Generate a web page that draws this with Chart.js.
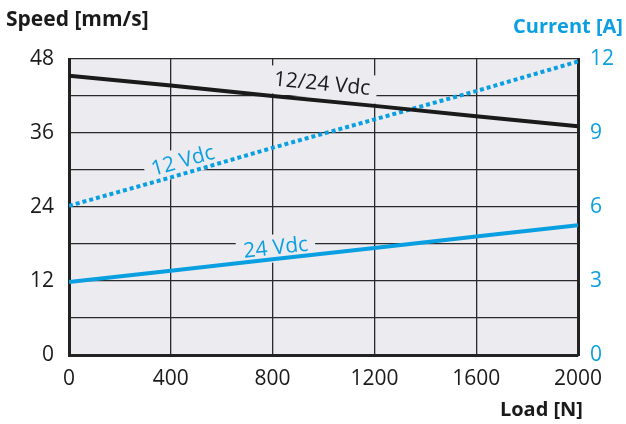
<!DOCTYPE html>
<html>
<head>
<meta charset="utf-8">
<script src="https://cdn.jsdelivr.net/npm/chart.js@4.4.1/dist/chart.umd.min.js"></script>
<style>
  html, body { margin: 0; padding: 0; background: #fff; }
  #wrap { position: relative; width: 626px; height: 424px; font-family: "Open Sans", sans-serif; }
  canvas { position: absolute; left: 0; top: 0; }
  .title { position: absolute; font-weight: bold; font-size: 20px; white-space: nowrap; line-height: 1; }
  #speed-title { left: 6px; top: 8px; color: #1a1a1a; font-size: 21px; }
  #current-title { right: 3px; top: 16px; color: #0a9fe0; }
  #load-title { right: 43px; top: 399px; color: #1a1a1a; }
</style>
</head>
<body>
<div id="wrap">
  <canvas id="chart" width="626" height="424"></canvas>
  <div class="title" id="speed-title">Speed [mm/s]</div>
  <div class="title" id="current-title">Current [A]</div>
  <div class="title" id="load-title">Load [N]</div>
</div>
<script>
const loads = [0, 400, 800, 1200, 1600, 2000];
const speed1224 = [45.3, 43.7, 42.0, 40.4, 38.7, 37.1];
const current12 = [6.05, 7.2, 8.4, 9.55, 10.7, 11.9];
const current24 = [2.96, 3.42, 3.88, 4.34, 4.8, 5.26];
const speedTicks = [0, 12, 24, 36, 48];
const currentTicks = [0, 3, 6, 9, 12];

const BLUE = "#0a9fe0";
const DARK = "#1a1a1a";
const PLOT_BG = "#ebebf0";

const toPoints = (ys) => loads.map((x, i) => ({ x: x, y: ys[i] }));

// text labels sitting on the lines, with a box that hides the grid behind them
const lineLabels = [
  { text: "12/24 Vdc", x: 994, y: 43.9, axis: "y", color: DARK, ds: 0 },
  { text: "12 Vdc", x: 448, y: 7.85, axis: "y2", color: BLUE, ds: 1 },
  { text: "24 Vdc", x: 813, y: 4.33, axis: "y2", color: BLUE, ds: 2 },
];

const plotBg = {
  id: "plotBg",
  beforeDraw(chart) {
    const a = chart.chartArea;
    const c = chart.ctx;
    c.save();
    c.fillStyle = PLOT_BG;
    c.fillRect(a.left, a.top, a.right - a.left, a.bottom - a.top);
    c.restore();
  },
  beforeDatasetsDraw(chart) {
    const c = chart.ctx;
    const xs = chart.scales.x;
    lineLabels.forEach((l) => {
      const ys = chart.scales[l.axis];
      const ds = chart.data.datasets[l.ds].data;
      const p0 = ds[0], p1 = ds[ds.length - 1];
      const ang = Math.atan2(
        ys.getPixelForValue(p1.y) - ys.getPixelForValue(p0.y),
        xs.getPixelForValue(p1.x) - xs.getPixelForValue(p0.x)
      );
      c.save();
      c.translate(xs.getPixelForValue(l.x), ys.getPixelForValue(l.y));
      c.rotate(ang);
      c.font = '21px "Open Sans", sans-serif';
      const w = c.measureText(l.text).width;
      c.fillStyle = PLOT_BG;
      c.fillRect(-w / 2 - 7, -14, w + 14, 28);
      c.fillStyle = l.color;
      c.textAlign = "center";
      c.textBaseline = "middle";
      c.fillText(l.text, 0, 0);
      c.restore();
    });
  },
};

new Chart(document.getElementById("chart"), {
  type: "line",
  data: {
    datasets: [
      {
        label: "12/24 Vdc",
        data: toPoints(speed1224),
        yAxisID: "y",
        borderColor: DARK,
        borderWidth: 4,
        pointRadius: 0,
      },
      {
        label: "12 Vdc",
        data: toPoints(current12),
        yAxisID: "y2",
        borderColor: BLUE,
        borderWidth: 4,
        borderDash: [4, 3],
        pointRadius: 0,
      },
      {
        label: "24 Vdc",
        data: toPoints(current24),
        yAxisID: "y2",
        borderColor: BLUE,
        borderWidth: 4,
        pointRadius: 0,
      },
    ],
  },
  options: {
    responsive: false,
    animation: false,
    layout: { padding: { top: 59, left: 0, right: 0, bottom: 0 } },
    plugins: { legend: { display: false }, tooltip: { enabled: false } },
    scales: {
      x: {
        type: "linear",
        min: 0,
        max: 2000,
        afterFit: (s) => { s.height = 69; },
        afterBuildTicks: (s) => { s.ticks = loads.map((v) => ({ value: v })); },
        ticks: {
          color: DARK,
          font: { size: 21, family: "Open Sans" },
          padding: 11,
          callback: (v) => String(v),
        },
        grid: { color: "#2a2a2a", lineWidth: 1.3, drawTicks: false },
        border: { color: "#222", width: 3 },
      },
      y: {
        position: "left",
        min: 0,
        max: 48,
        afterFit: (s) => { s.width = 69; },
        ticks: {
          stepSize: 6,
          color: DARK,
          font: { size: 21, family: "Open Sans" },
          padding: 15,
          callback: (v) => (speedTicks.includes(v) ? String(v) : ""),
        },
        grid: { color: "#2a2a2a", lineWidth: 1.3, drawTicks: false },
        border: { color: "#222", width: 3 },
      },
      y2: {
        position: "right",
        min: 0,
        max: 12,
        afterFit: (s) => { s.width = 48; },
        ticks: {
          stepSize: 3,
          color: BLUE,
          font: { size: 21, family: "Open Sans" },
          padding: 12,
          callback: (v) => (currentTicks.includes(v) ? String(v) : ""),
        },
        grid: { display: false, drawTicks: false },
        border: { color: "#222", width: 3 },
      },
    },
  },
  plugins: [plotBg],
});
</script>
</body>
</html>
